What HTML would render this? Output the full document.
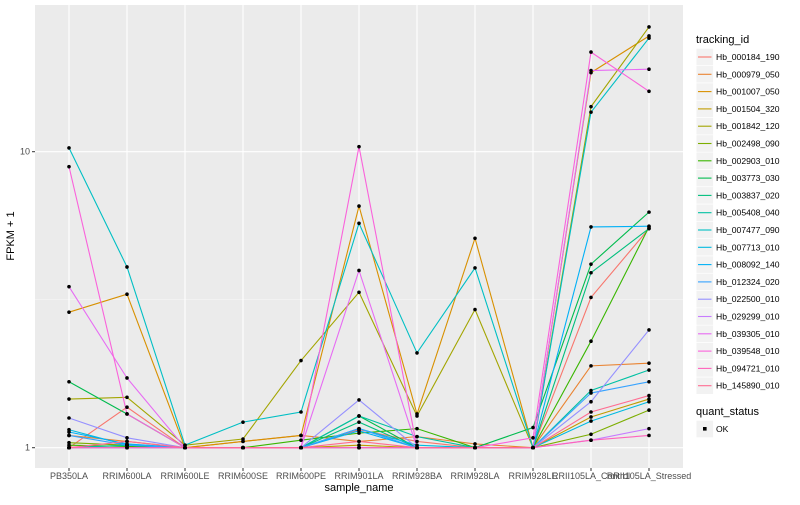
<!DOCTYPE html>
<html><head><meta charset="utf-8"><style>
body{margin:0;background:#fff;}
svg text{font-family:"Liberation Sans",sans-serif;}
</style></head><body>
<svg id="chart" width="800" height="500" xmlns="http://www.w3.org/2000/svg">
<rect x="35" y="5" width="648" height="463" fill="#EBEBEB"/>
<g id="grid"></g><g id="series"></g><g id="points"></g><g id="axes"></g><g id="legend"></g>
<text x="14" y="236" transform="rotate(-90 14 236)" text-anchor="middle" font-size="11" fill="#000">FPKM + 1</text>
<text x="359" y="491" text-anchor="middle" font-size="11" fill="#000">sample_name</text>
</svg>
<script>
const categories=["PB350LA","RRIM600LA","RRIM600LE","RRIM600SE","RRIM600PE","RRIM901LA","RRIM928BA","RRIM928LA","RRIM928LE","RRII105LA_Control","RRII105LA_Stressed"];
const seriesNames=["Hb_000184_190","Hb_000979_050","Hb_001007_050","Hb_001504_320","Hb_001842_120","Hb_002498_090","Hb_002903_010","Hb_003773_030","Hb_003837_020","Hb_005408_040","Hb_007477_090","Hb_007713_010","Hb_008092_140","Hb_012324_020","Hb_022500_010","Hb_029299_010","Hb_039305_010","Hb_039548_010","Hb_094721_010","Hb_145890_010"];
const colors=["#F8766D","#EA8331","#D89000","#C09B00","#A3A500","#7CAE00","#39B600","#00BB4E","#00BF7D","#00C1A3","#00BFC4","#00BAE0","#00B0F6","#35A2FF","#9590FF","#C77CFF","#E76BF3","#FA62DB","#FF62BC","#FF6C91"];
const s0=[1.0,1.37,1.0,1.0,1.0,1.15,1.05,1.0,1.0,3.22,5.5];
const s1=[1.1,1.05,1.0,1.05,1.1,1.05,1.09,1.03,1.0,1.89,1.93];
const s2=[2.87,3.3,1.0,1.05,1.1,6.55,1.3,5.1,1.0,18.5,24.6];
const s3=[1.0,1.02,1.0,1.0,1.0,1.02,1.0,1.0,1.0,1.27,1.46];
const s4=[1.46,1.48,1.02,1.07,1.97,3.35,1.28,2.93,1.0,14.2,26.4];
const s5=[1.04,1.02,1.0,1.0,1.0,1.0,1.0,1.0,1.0,1.11,1.34];
const s6=[1.02,1.01,1.0,1.0,1.06,1.12,1.16,1.0,1.0,2.29,5.57];
const s7=[1.67,1.3,1.0,1.0,1.0,1.28,1.0,1.0,1.17,4.17,6.25];
const s8=[1.0,1.0,1.0,1.0,1.0,1.22,1.0,1.0,1.0,3.9,5.5];
const s9=[1.0,1.02,1.0,1.0,1.0,1.28,1.09,1.0,1.0,1.56,1.83];
const s10=[10.3,4.08,1.02,1.22,1.32,5.73,2.09,4.05,1.0,13.6,24.2];
const s11=[1.15,1.02,1.0,1.0,1.0,1.16,1.02,1.0,1.0,1.23,1.43];
const s12=[1.13,1.03,1.0,1.0,1.0,1.14,1.0,1.0,1.0,5.57,5.6];
const s13=[1.1,1.02,1.0,1.0,1.0,1.16,1.0,1.0,1.0,1.53,1.67];
const s14=[1.26,1.08,1.0,1.0,1.0,1.45,1.0,1.0,1.0,1.43,2.5];
const s15=[1.0,1.0,1.0,1.0,1.0,1.0,1.0,1.0,1.0,1.06,1.16];
const s16=[3.5,1.72,1.0,1.0,1.0,3.97,1.0,1.0,1.0,18.8,19.0];
const s17=[8.9,1.3,1.0,1.0,1.0,10.4,1.0,1.0,1.08,21.7,16.0];
const s18=[1.0,1.0,1.0,1.0,1.0,1.0,1.0,1.0,1.0,1.06,1.1];
const s19=[1.0,1.05,1.0,1.0,1.0,1.05,1.0,1.0,1.0,1.32,1.5];
const seriesValues=[s0,s1,s2,s3,s4,s5,s6,s7,s8,s9,s10,s11,s12,s13,s14,s15,s16,s17,s18,s19];
const yTicks=[1,10];
const NS="http://www.w3.org/2000/svg";
function xPos(i){return 69+i*58;}
function yPos(v){return 447.7-Math.log10(v)*296;}
function mk(tag,attrs,parent){const e=document.createElementNS(NS,tag);for(const k in attrs)e.setAttribute(k,attrs[k]);parent.appendChild(e);return e;}
const grid=document.getElementById('grid'),series=document.getElementById('series'),points=document.getElementById('points'),axes=document.getElementById('axes'),legend=document.getElementById('legend');
// minor y grid
[Math.sqrt(10)].forEach(v=>{const l=mk('line',{x1:35,x2:683,y1:yPos(v),y2:yPos(v),stroke:'#F5F5F5','stroke-width':0.6},grid);

});
yTicks.forEach(v=>{const y=yPos(v);
const l=mk('line',{x1:35,x2:683,y1:y,y2:y,stroke:'#fff','stroke-width':1.1},grid);


mk('line',{x1:32,x2:35,y1:y,y2:y,stroke:'#333','stroke-width':1},axes);
const t=mk('text',{x:30,y:y+3,'text-anchor':'end','font-size':9,fill:'#4D4D4D'},axes);t.textContent=String(v);

});
categories.forEach((c,i)=>{const x=xPos(i);
const l=mk('line',{x1:x,x2:x,y1:5,y2:468,stroke:'#fff','stroke-width':1.1},grid);


mk('line',{x1:x,x2:x,y1:468,y2:471,stroke:'#333','stroke-width':1},axes);
const t=mk('text',{x:x,y:479,'text-anchor':'middle','font-size':9,fill:'#4D4D4D'},axes);t.textContent=c;

});
seriesValues.forEach((vals,si)=>{
const p=mk('polyline',{points:vals.map((v,i)=>xPos(i)+','+yPos(v)).join(' '),fill:'none',stroke:colors[si],'stroke-width':1.1},series);


vals.forEach((v,i)=>{const c=mk('circle',{cx:xPos(i),cy:yPos(v),r:1.8,fill:'#000'},points);

});});
// legend
const lt=mk('text',{x:696,y:43,'font-size':11,fill:'#000'},legend);lt.textContent='tracking_id';


seriesNames.forEach((n,i)=>{const cy=57+i*17.3;
const g=mk('g',{},legend);


mk('rect',{x:696.5,y:cy-8.3,width:16.6,height:16.6,fill:'#F2F2F2'},g);
mk('line',{x1:698,x2:711.5,y1:cy,y2:cy,stroke:colors[i],'stroke-width':1.1},g);
const t=mk('text',{x:716,y:cy+3,'font-size':8.6,fill:'#000'},g);t.textContent=n;});
const qt=mk('text',{x:696,y:415,'font-size':11,fill:'#000'},legend);qt.textContent='quant_status';


const g2=mk('g',{},legend);


mk('rect',{x:696.5,y:420.7,width:16.6,height:16.6,fill:'#F2F2F2'},g2);
mk('rect',{x:703,y:427,width:3.6,height:3.6,fill:'#000'},g2);
const ok=mk('text',{x:716,y:432,'font-size':8.6,fill:'#000'},g2);ok.textContent='OK';
</script>
</body></html>
